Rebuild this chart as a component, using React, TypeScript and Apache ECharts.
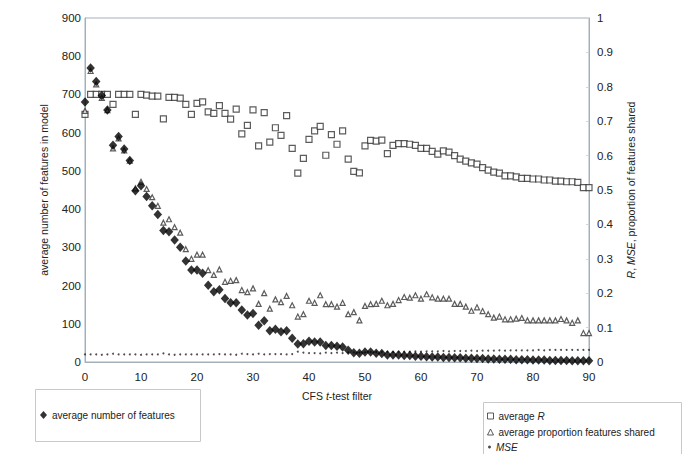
import React, { useEffect, useRef } from "react";
import * as echarts from "echarts";

const filterValues = [
  0, 1, 2, 3, 4, 5, 6, 7, 8, 9, 10, 11, 12, 13, 14, 15, 16, 17, 18, 19, 20,
  21, 22, 23, 24, 25, 26, 27, 28, 29, 30, 31, 32, 33, 34, 35, 36, 37, 38, 39, 40,
  41, 42, 43, 44, 45, 46, 47, 48, 49, 50, 51, 52, 53, 54, 55, 56, 57, 58, 59, 60,
  61, 62, 63, 64, 65, 66, 67, 68, 69, 70, 71, 72, 73, 74, 75, 76, 77, 78, 79, 80,
  81, 82, 83, 84, 85, 86, 87, 88, 89, 90,
];

const avgFeatures = [
  680, 769, 734, 697, 659, 567, 590, 557, 527, 448, 461, 433, 409, 386, 344, 341, 319, 300, 264, 241, 241,
  232, 201, 184, 189, 166, 155, 155, 136, 123, 127, 96, 108, 82, 86, 79, 82, 62, 47, 48, 54,
  52, 52, 43, 43, 41, 39, 31, 24, 23, 26, 26, 23, 22, 18, 18, 18, 17, 17, 15, 15,
  14, 13, 13, 12, 12, 11, 11, 10, 10, 9, 9, 8, 8, 7, 7, 7, 6, 6, 6, 5,
  5, 5, 4, 4, 4, 4, 3, 3, 3, 3,
];

const avgR = [
  0.72, 0.778, 0.778, 0.778, 0.778, 0.749, 0.778, 0.778, 0.778, 0.72, 0.778, 0.776, 0.773, 0.773, 0.707, 0.769, 0.769, 0.767, 0.749, 0.72, 0.752,
  0.756, 0.727, 0.723, 0.745, 0.723, 0.706, 0.735, 0.663, 0.688, 0.733, 0.628, 0.725, 0.639, 0.681, 0.659, 0.716, 0.621, 0.549, 0.592, 0.647,
  0.672, 0.685, 0.601, 0.661, 0.633, 0.672, 0.59, 0.554, 0.55, 0.628, 0.644, 0.642, 0.645, 0.606, 0.63, 0.635, 0.635, 0.633, 0.63, 0.621,
  0.621, 0.612, 0.604, 0.614, 0.61, 0.6, 0.59, 0.584, 0.579, 0.575, 0.565, 0.558, 0.552, 0.549, 0.541, 0.541, 0.538, 0.534, 0.534, 0.532,
  0.532, 0.529, 0.529, 0.526, 0.526, 0.524, 0.524, 0.522, 0.507, 0.507,
];

const sharedProportion = [
  0.73, 0.846, 0.807, 0.768, 0.732, 0.621, 0.65, 0.615, 0.585, 0.505, 0.524, 0.503, 0.479, 0.454, 0.405, 0.415, 0.392, 0.376, 0.328, 0.3, 0.312,
  0.312, 0.267, 0.253, 0.269, 0.233, 0.236, 0.238, 0.209, 0.203, 0.214, 0.169, 0.2, 0.155, 0.182, 0.174, 0.192, 0.165, 0.132, 0.139, 0.178,
  0.172, 0.194, 0.168, 0.168, 0.161, 0.172, 0.139, 0.145, 0.121, 0.163, 0.168, 0.169, 0.178, 0.165, 0.169, 0.18, 0.189, 0.187, 0.194, 0.184,
  0.197, 0.188, 0.184, 0.184, 0.184, 0.169, 0.169, 0.161, 0.149, 0.159, 0.148, 0.139, 0.129, 0.132, 0.124, 0.124, 0.126, 0.128, 0.121, 0.121,
  0.121, 0.121, 0.121, 0.121, 0.125, 0.121, 0.114, 0.121, 0.084, 0.084,
];

const mse = [
  0.022, 0.022, 0.022, 0.021, 0.022, 0.024, 0.022, 0.022, 0.022, 0.022, 0.021, 0.022, 0.022, 0.022, 0.025, 0.022, 0.021, 0.022, 0.022, 0.022, 0.022,
  0.022, 0.022, 0.022, 0.023, 0.022, 0.022, 0.021, 0.024, 0.023, 0.022, 0.024, 0.022, 0.023, 0.023, 0.023, 0.022, 0.023, 0.03, 0.027, 0.026,
  0.026, 0.025, 0.027, 0.026, 0.027, 0.026, 0.028, 0.028, 0.027, 0.028, 0.029, 0.029, 0.029, 0.03, 0.029, 0.03, 0.03, 0.03, 0.031, 0.03,
  0.031, 0.031, 0.031, 0.032, 0.031, 0.032, 0.032, 0.032, 0.033, 0.032, 0.033, 0.033, 0.033, 0.034, 0.033, 0.034, 0.034, 0.034, 0.034, 0.034,
  0.035, 0.034, 0.035, 0.035, 0.035, 0.035, 0.035, 0.035, 0.035, 0.035,
];

const leftTicks = { min: 0, max: 900, interval: 100 };
const rightTicks = { min: 0, max: 1, interval: 0.1 };
const xTicks = { min: 0, max: 90, interval: 10 };

const FONT = "Liberation Sans, Arial, sans-serif";
const AXIS_COLOR = "#a3b0bc";
const TEXT_COLOR = "#222";

function pairs(vals: number[]) {
  return filterValues.map((x, i) => [x, vals[i]]);
}

export default function App() {
  const ref = useRef<HTMLDivElement>(null);

  useEffect(() => {
    if (!ref.current) return;
    const chart = echarts.init(ref.current, null, { renderer: "svg" });
    const italic = { fontStyle: "italic", fontFamily: FONT, color: TEXT_COLOR };
    const legendText = {
      fontSize: 10,
      lineHeight: 12,
      color: TEXT_COLOR,
      fontFamily: FONT,
      rich: { i: { ...italic, fontSize: 10 } },
    };
    const legendFmt = (name: string) =>
      name === "average R" ? "average {i|R}" : name === "MSE" ? "{i|MSE}" : name;
    chart.setOption({
      animation: false,
      backgroundColor: "#fff",
      textStyle: { fontFamily: FONT },
      grid: {
        left: 85,
        right: 96,
        top: 18,
        bottom: 92,
        show: true,
        borderColor: AXIS_COLOR,
        borderWidth: 1,
        backgroundColor: "transparent",
      },
      xAxis: {
        type: "value",
        min: xTicks.min,
        max: xTicks.max,
        interval: xTicks.interval,
        name: "CFS {i|t}-test filter",
        nameLocation: "middle",
        nameGap: 28,
        nameTextStyle: {
          fontSize: 10.5,
          color: TEXT_COLOR,
          fontFamily: FONT,
          rich: { i: { ...italic, fontSize: 10.5 } },
        },
        axisLine: { show: true, lineStyle: { color: AXIS_COLOR } },
        axisTick: { show: false },
        splitLine: { show: false },
        axisLabel: { fontSize: 11.5, color: TEXT_COLOR, margin: 9, fontFamily: FONT },
      },
      yAxis: [
        {
          type: "value",
          min: leftTicks.min,
          max: leftTicks.max,
          interval: leftTicks.interval,
          name: "average number of features in model",
          nameLocation: "middle",
          nameRotate: 90,
          nameGap: 36,
          nameTextStyle: { fontSize: 10.5, color: TEXT_COLOR, fontFamily: FONT },
          axisLine: { show: true, lineStyle: { color: AXIS_COLOR } },
          axisTick: { show: false },
          splitLine: { show: false },
          axisLabel: { fontSize: 11.5, color: TEXT_COLOR, margin: 4, fontFamily: FONT },
        },
        {
          type: "value",
          position: "right",
          min: rightTicks.min,
          max: rightTicks.max,
          interval: rightTicks.interval,
          name: "{i|R}, {i|MSE}, proportion of features shared",
          nameLocation: "middle",
          nameRotate: 90,
          nameGap: 36,
          nameTextStyle: {
            fontSize: 10.5,
            color: TEXT_COLOR,
            fontFamily: FONT,
            rich: { i: { ...italic, fontSize: 10.5 } },
          },
          axisLine: { show: true, lineStyle: { color: AXIS_COLOR } },
          axisTick: { show: true, inside: true, length: 3, lineStyle: { color: "#d0d6dc" } },
          splitLine: { show: false },
          axisLabel: {
            fontSize: 11.5,
            color: TEXT_COLOR,
            margin: 8,
            fontFamily: FONT,
            formatter: (v: number) => String(Math.round(v * 10) / 10),
          },
        },
      ],
      legend: [
        {
          left: 40,
          top: 409,
          padding: 0,
          itemWidth: 7,
          itemHeight: 8,
          textStyle: legendText,
          data: [{ name: "average number of features", icon: "diamond" }],
        },
        {
          left: 487,
          top: 410,
          padding: 0,
          itemWidth: 6,
          itemHeight: 6,
          formatter: legendFmt,
          textStyle: legendText,
          data: [
            {
              name: "average R",
              icon: "rect",
              itemStyle: { color: "#fff", borderColor: "#333", borderWidth: 1 },
            },
          ],
        },
        {
          left: 487,
          top: 426,
          padding: 0,
          itemWidth: 6,
          itemHeight: 6,
          formatter: legendFmt,
          textStyle: legendText,
          data: [
            {
              name: "average proportion features shared",
              icon: "triangle",
              itemStyle: { color: "#fff", borderColor: "#333", borderWidth: 1 },
            },
          ],
        },
        {
          left: 488,
          top: 441,
          padding: 0,
          itemWidth: 3,
          itemHeight: 3,
          formatter: legendFmt,
          textStyle: legendText,
          data: [{ name: "MSE", icon: "circle" }],
        },
      ],
      graphic: [
        {
          type: "rect",
          shape: { x: 35.5, y: 389.5, width: 165, height: 52 },
          style: { fill: "none", stroke: "#c8c8c8", lineWidth: 1 },
          silent: true,
        },
        {
          type: "rect",
          shape: { x: 483.5, y: 402.5, width: 198, height: 58 },
          style: { fill: "none", stroke: "#c8c8c8", lineWidth: 1 },
          silent: true,
        },
      ],
      series: [
        {
          name: "average R",
          type: "scatter",
          yAxisIndex: 1,
          symbol: "rect",
          symbolSize: 6,
          itemStyle: { color: "#fff", borderColor: "#333", borderWidth: 1.2 },
          data: pairs(avgR),
          z: 2,
        },
        {
          name: "average proportion features shared",
          type: "scatter",
          yAxisIndex: 1,
          symbol: "triangle",
          symbolSize: 5,
          itemStyle: { color: "#fff", borderColor: "#333", borderWidth: 1.2 },
          data: pairs(sharedProportion),
          z: 3,
        },
        {
          name: "MSE",
          type: "scatter",
          yAxisIndex: 1,
          symbol: "circle",
          symbolSize: 2,
          itemStyle: { color: "#222" },
          data: pairs(mse),
          z: 4,
        },
        {
          name: "average number of features",
          type: "scatter",
          yAxisIndex: 0,
          symbol: "diamond",
          symbolSize: [8.5, 9.5],
          itemStyle: { color: "#000" },
          data: pairs(avgFeatures),
          z: 5,
        },
      ],
    });
    return () => chart.dispose();
  }, []);

  return (
    <div
      ref={ref}
      style={{ position: "fixed", left: 0, top: 0, width: 685, height: 454, background: "#fff" }}
    />
  );
}
